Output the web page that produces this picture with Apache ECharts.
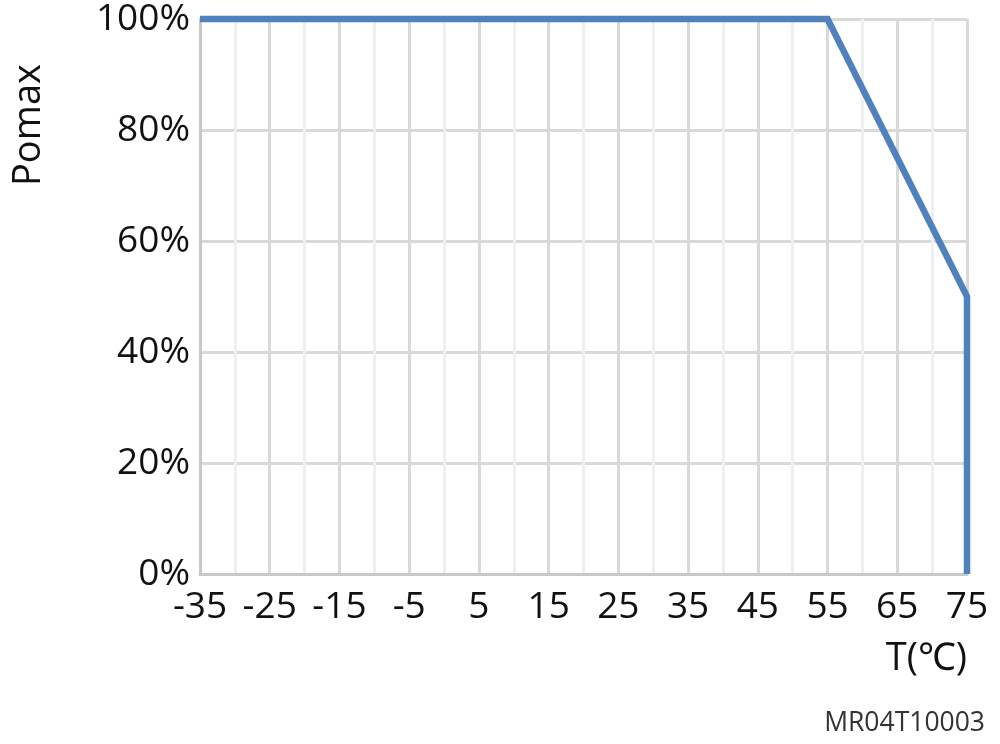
<!DOCTYPE html>
<html>
<head>
<meta charset="utf-8">
<script src="https://cdn.jsdelivr.net/npm/echarts@6/dist/echarts.min.js"></script>
<style>
  html, body { margin: 0; padding: 0; background: #fff; }
  #chart { width: 1000px; height: 744px; }
</style>
</head>
<body>
<div id="chart"></div>
<script>
// derating curve: temperature (℃) vs output power (%)
var temps = [-35, 55, 75, 75];
var power = [100, 100, 50, 0];

var font = '"Open Sans", "Noto Sans", sans-serif';
var chart = echarts.init(document.getElementById('chart'));

var option = {
    animation: false,
    grid: { left: 200, right: 33, top: 19, bottom: 170 },
    xAxis: {
        type: 'value',
        min: -35,
        max: 75,
        interval: 10,
        axisLine: { show: true, onZero: false, lineStyle: { color: '#c8c8c8', width: 3 } },
        axisTick: { show: false },
        axisLabel: { color: '#111', fontSize: 37, fontFamily: font, margin: 15 },
        splitLine: { show: true, lineStyle: { color: '#d9d9d9', width: 3 } },
        minorTick: { show: false, splitNumber: 2 },
        minorSplitLine: { show: true, lineStyle: { color: '#efefef', width: 3 } }
    },
    yAxis: {
        type: 'value',
        min: 0,
        max: 100,
        interval: 20,
        axisLine: { show: true, onZero: false, lineStyle: { color: '#c8c8c8', width: 3 } },
        axisTick: { show: false },
        axisLabel: { color: '#111', fontSize: 37, fontFamily: font, margin: 10, formatter: '{value}%' },
        splitLine: { show: true, lineStyle: { color: '#d9d9d9', width: 3 } }
    },
    graphic: [
        {
            type: 'text', right: 33, top: 640,
            style: { text: 'T(℃)', fontSize: 38, fontFamily: font, fill: '#111' }
        },
        {
            type: 'text', x: 10, y: 186, rotation: Math.PI / 2,
            style: { text: 'Pomax', fontSize: 38, fontFamily: font, fill: '#111' }
        },
        {
            type: 'text', right: 15, top: 710,
            style: { text: 'MR04T10003', fontSize: 26.5, fontFamily: font, fill: '#333' }
        }
    ],
    series: [{
        type: 'line',
        data: temps.map(function (t, i) { return [t, power[i]]; }),
        symbol: 'none',
        lineStyle: { color: '#4f81bd', width: 6.5, join: 'miter' },
        clip: false
    }]
};

chart.setOption(option);
</script>
</body>
</html>
